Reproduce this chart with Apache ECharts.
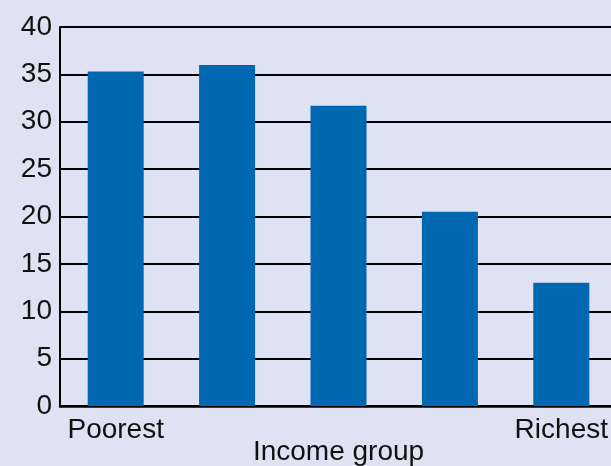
<!DOCTYPE html>
<html lang="en">
  <head>
    <meta charset="UTF-8">
    <title>Income group</title>
    <script src="https://cdn.jsdelivr.net/npm/echarts@6.0.0/dist/echarts.min.js"></script>
    <style>
      html, body { margin: 0; padding: 0; background: #dfe2f2; }
    </style>
  </head>
  <body>
    <div id="main" style="width: 611px;height:466px;"></div>
    <script type="text/javascript">
      // Chart data
      const categories = ['Poorest', '', '', '', 'Richest'];
      const values = [35.3, 36.0, 31.7, 20.5, 13.0];

      let myChart = echarts.init(document.getElementById('main'));

      let options = {
        backgroundColor: '#dfe2f2',
        animation: false,
        grid: { left: 60, right: -6, top: 27, bottom: 60, outerBoundsMode: 'none', containLabel: false },
        xAxis: {
          type: 'category',
          data: categories,
          name: 'Income group',
          nameLocation: 'middle',
          nameGap: 32,
          nameMoveOverlap: false,
          nameTextStyle: { fontFamily: 'Liberation Sans', fontSize: 28, color: '#111', verticalAlign: 'top' },
          axisLine: { lineStyle: { color: '#000', width: 2.5 } },
          axisTick: { show: false },
          axisLabel: { fontFamily: 'Liberation Sans', fontSize: 28, color: '#111', margin: 10, interval: 0 }
        },
        yAxis: {
          type: 'value',
          min: 0,
          max: 40,
          interval: 5,
          axisLine: { show: true, lineStyle: { color: '#000', width: 2 } },
          axisTick: { show: false },
          axisLabel: { fontFamily: 'Liberation Sans', fontSize: 28, color: '#111', margin: 8 },
          splitLine: { lineStyle: { color: '#000', width: 2 } }
        },
        series: [{
          type: 'bar',
          data: values,
          barWidth: 56,
          itemStyle: { color: '#0067b1' }
        }]
      };

      myChart.setOption(options);
    </script>
  </body>
</html>
